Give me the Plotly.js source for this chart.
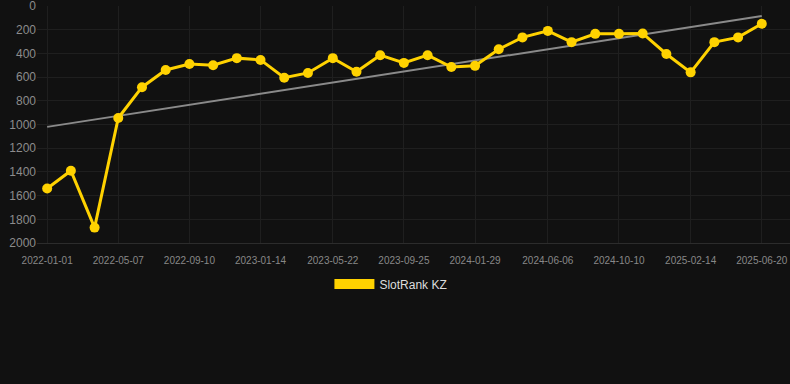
<!DOCTYPE html>
<html>
<head>
<meta charset="utf-8">
<script src="https://cdn.plot.ly/plotly-3.0.1.min.js"></script>
<style>
html,body{margin:0;padding:0;background:#111111;}
#chart{width:790px;height:384px;}
</style>
</head>
<body>
<div id="chart"></div>
<script>
var dates = [
  '2022-01-01','2022-02-12','2022-03-26','2022-05-07','2022-06-18','2022-07-30',
  '2022-09-10','2022-10-22','2022-12-03','2023-01-14','2023-02-25','2023-04-08',
  '2023-05-22','2023-07-03','2023-08-14','2023-09-25','2023-11-06','2023-12-18',
  '2024-01-29','2024-03-11','2024-04-22','2024-06-06','2024-07-18','2024-08-29',
  '2024-10-10','2024-11-21','2025-01-02','2025-02-14','2025-03-28','2025-05-09',
  '2025-06-20'
];
var ranks = [
  1540, 1390, 1870, 945, 685, 540,
  490, 500, 440, 455, 605, 565,
  440, 555, 415, 480, 415, 515,
  505, 365, 265, 210, 305, 235,
  235, 232, 405, 560, 305, 265,
  150
];
var trendDates = ['2022-01-01', '2025-06-20'];
var trendValues = [1020, 85];
var tickDates = ['2022-01-01','2022-05-07','2022-09-10','2023-01-14','2023-05-22',
  '2023-09-25','2024-01-29','2024-06-06','2024-10-10','2025-02-14','2025-06-20'];
var yTicks = [0,200,400,600,800,1000,1200,1400,1600,1800,2000];
var seriesName = 'SlotRank KZ';

var yellow = '#FFD200';

var traces = [
  {
    x: trendDates, y: trendValues, type: 'scatter', mode: 'lines',
    line: {color: '#8a8a8a', width: 2}, showlegend: false, hoverinfo: 'skip'
  },
  {
    x: dates, y: ranks, type: 'scatter', mode: 'lines+markers',
    line: {color: yellow, width: 3},
    marker: {color: yellow, size: 10},
    showlegend: false
  },
  {
    x: [null], y: [null], type: 'scatter', mode: 'lines', name: seriesName,
    line: {color: yellow, width: 10}, showlegend: true
  }
];

var layout = {
  width: 790, height: 384,
  paper_bgcolor: '#111111', plot_bgcolor: '#111111',
  margin: {l: 37, r: 0, t: 6, b: 141},
  font: {family: 'Liberation Sans, Arial, sans-serif', color: '#888888'},
  xaxis: {
    type: 'date',
    range: ['2021-12-14', '2025-08-09'],
    tickvals: tickDates,
    ticktext: tickDates,
    tickfont: {size: 10, color: '#888888'},
    ticklabelstandoff: 8,
    ticklabeloverflow: 'allow',
    showgrid: true, gridcolor: '#1f1f1f', gridwidth: 1,
    zeroline: false, showline: true, linecolor: '#2c2c2c', linewidth: 1,
    ticks: ''
  },
  yaxis: {
    range: [2000, 0],
    tickvals: yTicks,
    tickfont: {size: 12, color: '#8c8c8c'},
    ticklabeloverflow: 'allow',
    showgrid: true, gridcolor: '#1f1f1f', gridwidth: 1,
    zeroline: false, showline: false, ticks: ''
  },
  showlegend: true,
  legend: {
    orientation: 'h', x: 0.47, xanchor: 'center', y: -0.173, yanchor: 'middle',
    font: {size: 12, color: '#dddddd'}, bgcolor: 'rgba(0,0,0,0)', itemwidth: 40
  }
};

Plotly.newPlot('chart', traces, layout, {displayModeBar: false, staticPlot: true});
</script>
</body>
</html>
